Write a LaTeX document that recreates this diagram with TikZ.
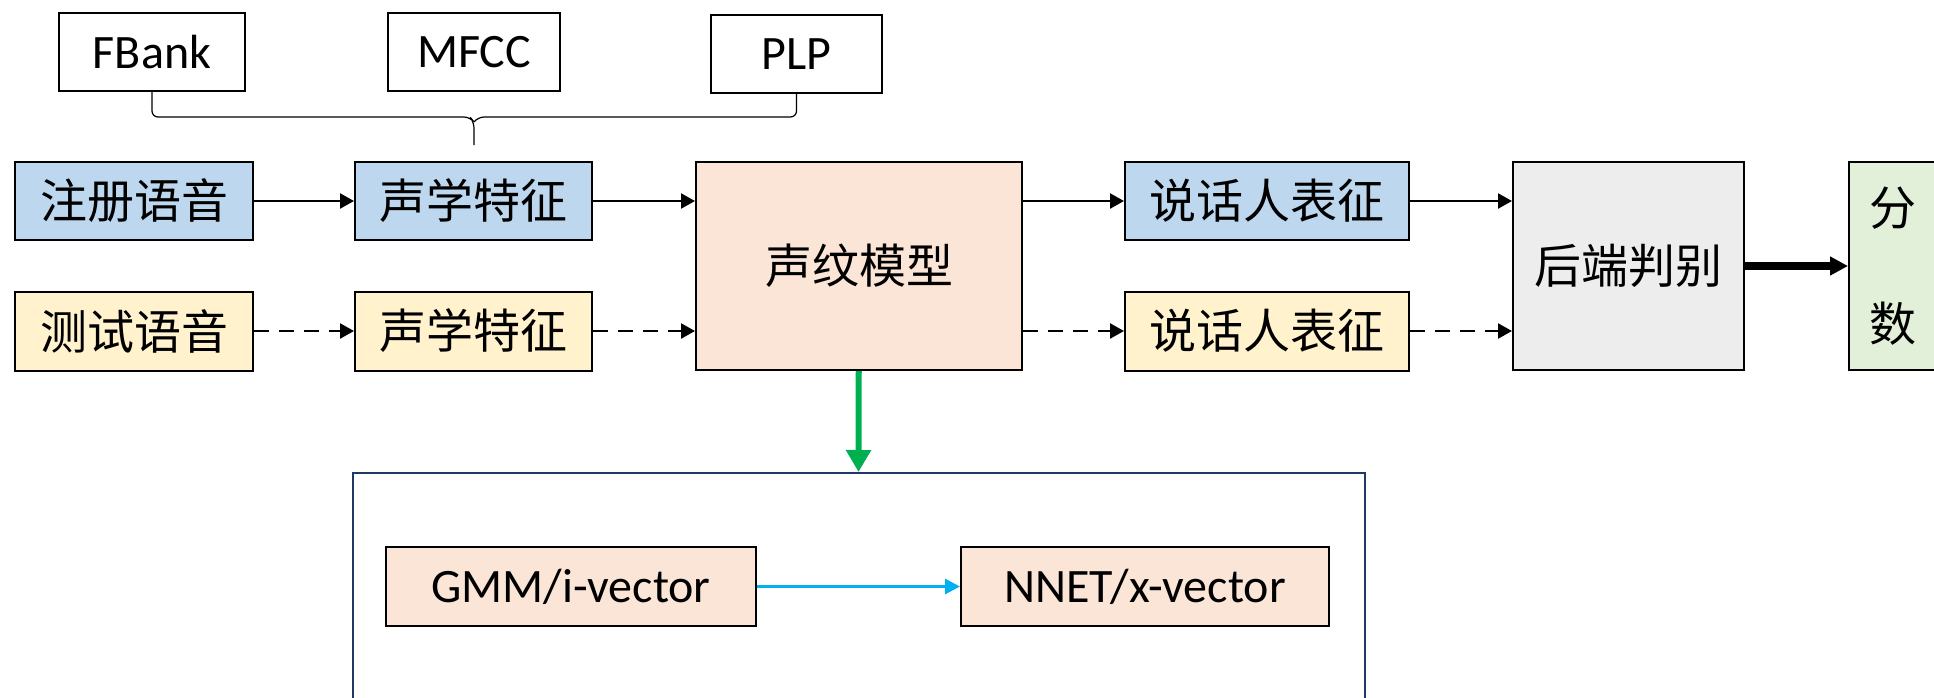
\documentclass[tikz,border=0pt]{standalone}
\usepackage{fontspec}
\setmainfont{Carlito}
\newfontfamily\cjkfont{Noto Sans CJK SC}
\usetikzlibrary{arrows.meta}

\definecolor{enrollBlue}{RGB}{189,215,238}
\definecolor{testYellow}{RGB}{255,242,204}
\definecolor{modelPeach}{RGB}{251,229,214}
\definecolor{backGray}{RGB}{237,237,237}
\definecolor{scoreGreen}{RGB}{226,240,217}
\definecolor{frameNavy}{RGB}{32,56,100}
\definecolor{arrowGreen}{RGB}{0,176,80}
\definecolor{arrowCyan}{RGB}{0,176,240}

\tikzset{every picture/.style={line width=1pt}}
\tikzset{
	box/.style={draw=black, line width=1pt, inner sep=0pt, font=\fontsize{24}{28}\selectfont},
	zhbox/.style={box, font=\cjkfont\fontsize{23.5}{28}\selectfont},
	flow/.style={-{Triangle[length=7pt,width=7.5pt]}, line width=1.2pt},
	testflow/.style={flow, dash pattern=on 7.5pt off 5pt}}

\begin{document}
\begin{tikzpicture}[x=0.5pt,y=0.5pt,yscale=-1,xscale=1]
	\useasboundingbox (0,0) rectangle (1934,697);

	% feature types
	\node [box, minimum width=93pt, minimum height=39pt] (fbank) at (152,52) {FBank};
	\node [box, minimum width=86pt, minimum height=39pt] (mfcc) at (474,52) {MFCC};
	\node [box, minimum width=85.5pt, minimum height=39pt] (plp) at (796.5,54) {PLP};
	\coordinate (bracetip) at (474,145);

	% enrollment row
	\node [zhbox, fill=enrollBlue, minimum width=119pt, minimum height=39pt] (enroll) at (134,201) {注册语音};
	\node [zhbox, fill=enrollBlue, minimum width=118.5pt, minimum height=39pt] (featA) at (473.5,201) {声学特征};
	\node [zhbox, fill=enrollBlue, minimum width=142pt, minimum height=39pt] (embA) at (1267,201) {说话人表征};

	% test row
	\node [zhbox, fill=testYellow, minimum width=119pt, minimum height=39.5pt] (test) at (134,331) {测试语音};
	\node [zhbox, fill=testYellow, minimum width=118.5pt, minimum height=39.5pt] (featB) at (473.5,331) {声学特征};
	\node [zhbox, fill=testYellow, minimum width=142pt, minimum height=39.5pt] (embB) at (1267,331) {说话人表征};

	% shared blocks
	\node [zhbox, fill=modelPeach, minimum width=163pt, minimum height=104pt] (model) at (859,266) {声纹模型};
	\node [zhbox, fill=backGray, minimum width=115.5pt, minimum height=104pt] (backend) at (1628.5,266) {后端判别};
	\node [zhbox, fill=scoreGreen, align=center, minimum width=44pt, minimum height=104pt] (score) at (1893,266) {分\\[30pt]数};

	% model types
	\node [draw=frameNavy, line width=1pt, minimum width=506pt, minimum height=113.5pt] (vecbox) at (858.5,586.5) {};
	\node [box, fill=modelPeach, minimum width=185pt, minimum height=39.5pt] (gmm) at (571,586.5) {GMM/i-vector};
	\node [box, fill=modelPeach, minimum width=184pt, minimum height=39.5pt] (nnet) at (1145,586.5) {NNET/x-vector};

	% brace
	\draw [line width=0.6pt, rounded corners=3pt] (fbank.south) |- (470,117) -- (474,122) -- (bracetip);
	\draw [line width=0.6pt, rounded corners=3pt] (plp.south) |- (478,117) -- (474,122);

	% enrollment flow
	\draw [flow] (enroll) -- (featA);
	\draw [flow] (featA.east) -- (featA.east -| model.west);
	\draw [flow] (model.east |- embA) -- (embA.west);
	\draw [flow] (embA.east) -- (embA.east -| backend.west);

	% test flow
	\draw [testflow] (test) -- (featB);
	\draw [testflow] (featB.east) -- (featB.east -| model.west);
	\draw [testflow] (model.east |- embB) -- (embB.west);
	\draw [testflow] (embB.east) -- (embB.east -| backend.west);

	\draw [-{Triangle[length=9pt,width=9pt]}, line width=4pt] (backend) -- (score);
	\draw [-{Triangle[length=11pt,width=12pt]}, line width=3pt, draw=arrowGreen, fill=arrowGreen] (model) -- (vecbox.north);
	\draw [-{Triangle[length=7.5pt,width=7.5pt]}, line width=1.5pt, draw=arrowCyan, fill=arrowCyan] (gmm) -- (nnet);

\end{tikzpicture}
\end{document}
